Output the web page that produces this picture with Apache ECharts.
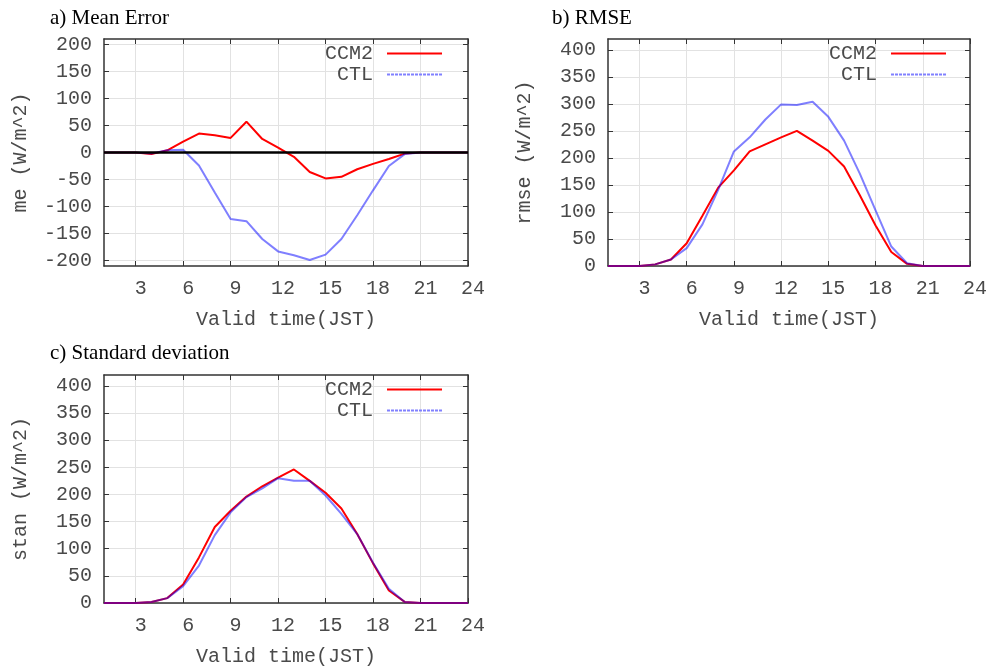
<!DOCTYPE html>
<html>
<head>
<meta charset="utf-8">
<script src="https://cdn.jsdelivr.net/npm/echarts@6/dist/echarts.min.js"></script>
<style>
html,body{margin:0;padding:0;background:#fff;}
#chart{width:990px;height:668px;}
</style>
</head>
<body>
<div id="chart"></div>
<script>
// ---- data ----
const hours = [1,2,3,4,5,6,7,8,9,10,11,12,13,14,15,16,17,18,19,20,21,22,23,24];

const meCCM2 = [0,0,0,-3,4,20,35,32,27,57,25,9,-8,-36,-48,-45,-31,-21,-12,-2,0,0,0,0];
const meCTL  = [0,0,0,-2,4,5,-24,-74,-123,-127,-160,-183,-190,-199,-189,-160,-116,-70,-25,-3,0,0,0,0];

const rmseCCM2 = [0,0,0,3,12,42,93,145,177,212,225,238,250,232,213,184,131,75,26,4,0,0,0,0];
const rmseCTL  = [0,0,0,3,12,33,77,141,212,238,271,299,298,304,276,232,171,103,36,5,0,0,0,0];

const stanCCM2 = [0,0,0,2,9,34,84,140,170,196,215,231,246,225,203,174,127,73,23,2,0,0,0,0];
const stanCTL  = [0,0,0,2,9,31,69,125,167,195,211,230,225,225,198,164,127,74,26,2,0,0,0,0];

const meTicks   = [-200,-150,-100,-50,0,50,100,150,200];
const posTicks  = [0,50,100,150,200,250,300,350,400];
const xTickEvery = 3;

const panelTitles = ['a) Mean Error', 'b) RMSE', 'c) Standard deviation'];
const yNames = ['me (W/m^2)', 'rmse (W/m^2)', 'stan (W/m^2)'];
const xName = 'Valid time(JST)';
const seriesNames = ['CCM2', 'CTL'];

// ---- styling / layout ----
const MONO = 'Liberation Mono';
const SERIF = 'Liberation Serif';
const TXT = '#4a4a4a';
const FRAME = '#333';
const GRIDC = '#e2e2e2';

const grids = [
  {left:104, top:39, width:364, height:227},
  {left:608, top:39, width:363, height:227},
  {left:104, top:375, width:364, height:228}
];
const yRanges = [[-210,210],[0,420],[0,420]];
const yTicks = [meTicks, posTicks, posTicks];
const dataSets = [[meCCM2, meCTL],[rmseCCM2, rmseCTL],[stanCCM2, stanCTL]];
const titlePos = [{left:50, top:8},{left:552, top:8},{left:50, top:343}];
const legendPos = [{left:325, top:43},{left:829, top:43},{left:325, top:379}];

const tickFn = (idx, val) => (Number(val) % xTickEvery === 0);

const xAxes = [], yAxes = [], series = [], titles = [], legends = [];

grids.forEach((g, i) => {
  xAxes.push({
    type:'category', gridIndex:i, data:hours, boundaryGap:false, position:'bottom',
    axisLine:{show:true, onZero:false, lineStyle:{color:FRAME, width:1.5}},
    axisTick:{show:true, inside:true, length:5, interval:tickFn, lineStyle:{color:FRAME, width:1}},
    axisLabel:{show:true, interval:tickFn, margin:13, padding:[0,0,0,10], fontFamily:MONO, fontSize:20, color:TXT},
    splitLine:{show:true, interval:tickFn, lineStyle:{color:GRIDC, width:1}},
    name:xName, nameLocation:'middle', nameGap:44,
    nameTextStyle:{fontFamily:MONO, fontSize:20, color:TXT}
  });
  xAxes.push({
    type:'category', gridIndex:i, data:hours, boundaryGap:false, position:'top',
    axisLine:{show:true, onZero:false, lineStyle:{color:FRAME, width:1.5}},
    axisTick:{show:true, inside:true, length:5, interval:tickFn, lineStyle:{color:FRAME, width:1}},
    axisLabel:{show:false}, splitLine:{show:false}
  });
  yAxes.push({
    type:'value', gridIndex:i, min:yRanges[i][0], max:yRanges[i][1], position:'left',
    axisLine:{show:true, onZero:false, lineStyle:{color:FRAME, width:1.5}},
    axisTick:{show:true, inside:true, length:5, customValues:yTicks[i], lineStyle:{color:FRAME, width:1}},
    axisLabel:{show:true, customValues:yTicks[i], margin:12, fontFamily:MONO, fontSize:20, color:TXT},
    splitLine:{show:true, lineStyle:{color:GRIDC, width:1}},
    name:yNames[i], nameLocation:'middle', nameGap:73, nameRotate:90,
    nameTextStyle:{fontFamily:MONO, fontSize:20, color:TXT}
  });
  yAxes.push({
    type:'value', gridIndex:i, min:yRanges[i][0], max:yRanges[i][1], position:'right',
    axisLine:{show:true, onZero:false, lineStyle:{color:FRAME, width:1.5}},
    axisTick:{show:true, inside:true, length:5, customValues:yTicks[i], lineStyle:{color:FRAME, width:1}},
    axisLabel:{show:false}, splitLine:{show:false}
  });

  const [dA, dB] = dataSets[i];
  series.push({
    name:seriesNames[0], type:'line', xAxisIndex:i*2, yAxisIndex:i*2, data:dA,
    symbol:'none', lineStyle:{color:'#ff0000', width:2}, itemStyle:{color:'#ff0000'},
    silent:true, z:2
  });
  const ctl = {
    name:seriesNames[1], type:'line', xAxisIndex:i*2, yAxisIndex:i*2, data:dB,
    symbol:'none', lineStyle:{color:'#0000ff', width:2, opacity:0.5}, itemStyle:{color:'#8080ff'},
    silent:true, z:3
  };
  if (i === 0) {
    ctl.markLine = {
      silent:true, symbol:['none','none'], label:{show:false},
      lineStyle:{color:'#000', width:2.5, type:'solid', opacity:1},
      data:[{yAxis:0}]
    };
  }
  series.push(ctl);

  titles.push({
    text:panelTitles[i], left:titlePos[i].left, top:titlePos[i].top, padding:0,
    textStyle:{fontFamily:SERIF, fontSize:21, fontWeight:'normal', color:'#000'}
  });

  legends.push({
    orient:'vertical', align:'right', left:legendPos[i].left, top:legendPos[i].top,
    padding:0, itemGap:0, itemWidth:55, itemHeight:21, selectedMode:false,
    textStyle:{fontFamily:MONO, fontSize:20, color:TXT, lineHeight:21, padding:[0,9,0,0]},
    data:[
      {name:seriesNames[0], itemStyle:{opacity:0}, lineStyle:{color:'#ff0000', width:2, type:'solid', opacity:1}},
      {name:seriesNames[1], itemStyle:{opacity:0}, lineStyle:{color:'#8080ff', width:2, type:[3,1], opacity:1}}
    ]
  });
});

const chart = echarts.init(document.getElementById('chart'), null, {renderer:'canvas'});
chart.setOption({
  animation:false,
  backgroundColor:'#fff',
  title:titles,
  legend:legends,
  grid:grids,
  xAxis:xAxes,
  yAxis:yAxes,
  series:series
});
</script>
</body>
</html>
